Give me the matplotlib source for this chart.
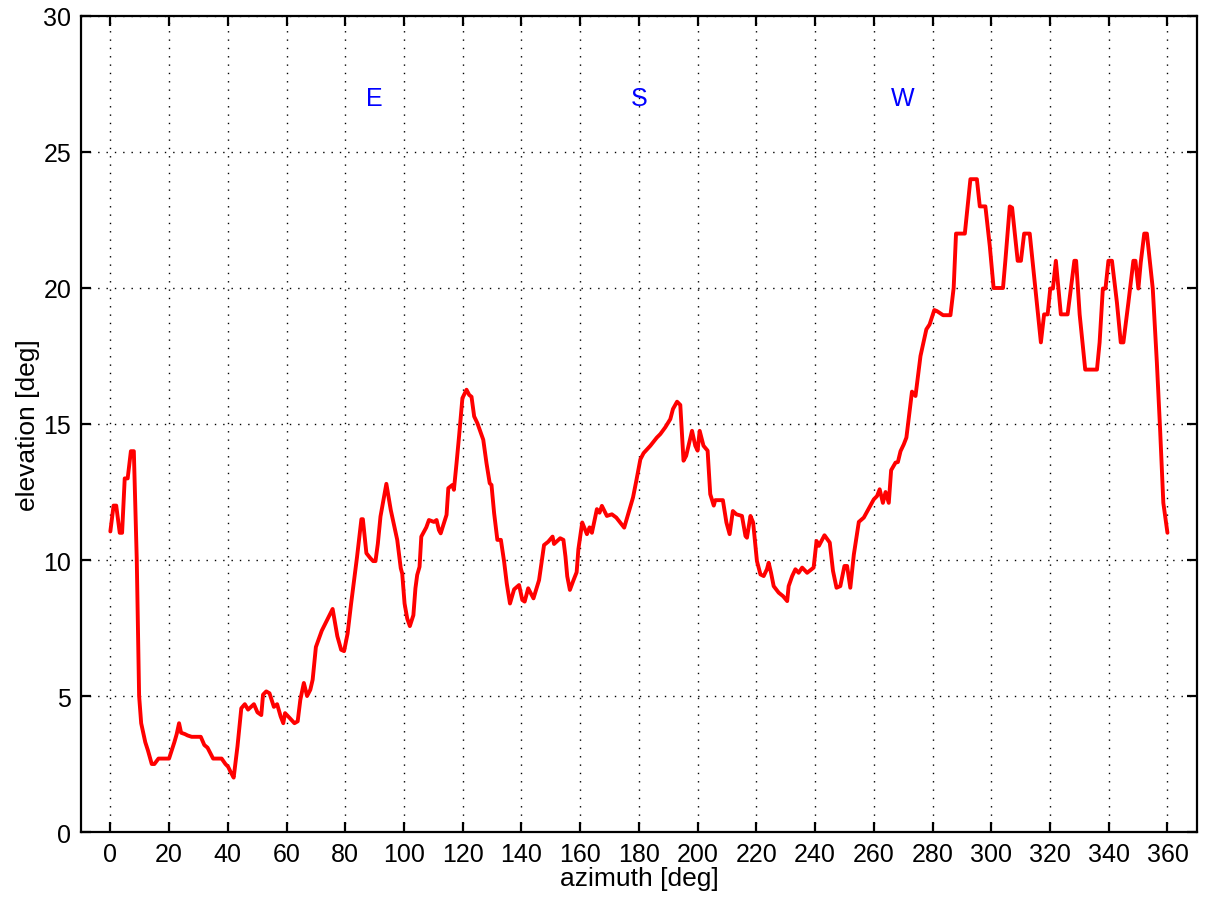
import matplotlib
matplotlib.use("Agg")
import matplotlib.pyplot as plt
import numpy as np

# horizon profile: azimuth [deg] vs. elevation [deg]
azimuth = [
    0, 1.1, 2.0, 3.2, 4.0, 4.9, 5.9, 7.0, 8.0, 9.0, 9.8, 10.5, 11.9, 12.8,
    14.1, 15.0, 16.4, 20.0, 21.8, 22.6, 23.4, 24.1, 25.4, 26.3, 27.7, 30.8,
    32.0, 33.1, 35.0, 37.9, 39.2, 40.1, 41.0, 42.0, 43.3, 44.6, 45.8, 46.9,
    48.9, 50.1, 51.4, 52.0, 53.1, 54.2, 55.7, 56.8, 58.0, 58.9, 59.5, 61.0,
    62.7, 63.8, 64.7, 65.9, 67.0, 68.1, 68.9, 70.0, 72.0, 75.7, 77.3, 78.6,
    79.6, 80.8, 82.0, 84.0, 85.5, 86.0, 87.2, 88.6, 89.5, 90.3, 91.1, 92.0,
    94.0, 95.5, 97.7, 98.9, 99.4, 100.2, 101.1, 102.0, 103.2, 103.9, 104.5,
    105.3, 105.9, 106.8, 107.6, 108.5, 110.2, 111.1, 111.9, 112.5, 113.4,
    114.5, 115.1, 116.5, 117.0, 117.9, 118.75, 119.9, 121.3, 122.2, 123.0,
    123.9, 125.0, 127.0, 128.1, 129.2, 129.8, 130.7, 131.8, 133.0, 134.1,
    135.0, 136.1, 137.5, 139.2, 140.3, 141.1, 142.3, 144.1, 146.0, 147.7,
    149.1, 150.6, 151.1, 153.2, 154.3, 155.0, 155.6, 156.5, 157.7, 158.8,
    159.4, 160.7, 162.3, 163.2, 164.0, 165.7, 166.6, 167.4, 169.1, 170.8,
    172.3, 173.6, 175.0, 176.5, 178.0, 179.1, 180.5, 181.6, 183.9, 186.1,
    187.3, 189.0, 190.7, 191.6, 193.0, 194.1, 195.2, 196.1, 198.1, 199.2,
    200.0, 200.7, 202.0, 203.4, 204.3, 205.5, 206.0, 208.6, 209.8, 210.9,
    212.0, 213.2, 215.1, 216.3, 216.8, 218.0, 218.9, 220.2, 221.4, 222.5,
    223.6, 224.2, 225.0, 225.9, 227.6, 229.1, 230.5, 231.0, 232.2, 233.3,
    234.4, 235.6, 237.3, 239.5, 240.5, 241.3, 243.2, 245.0, 246.1, 247.3,
    248.6, 250.0, 250.9, 252.0, 253.2, 254.9, 256.6, 260.0, 261.1, 262.0,
    263.1, 264.0, 265.1, 265.9, 267.4, 268.2, 269.1, 270.2, 271.1, 273.0,
    274.2, 275.9, 277.9, 279.0, 280.6, 281.5, 283.6, 286.1, 287.2, 288.0,
    291.0, 292.9, 295.1, 296.1, 298.0, 299.5, 300.8, 304.0, 304.8, 306.3,
    307.1, 309.0, 310.1, 311.2, 313.1, 315.0, 316.9, 318.0, 319.2, 320.1,
    321.0, 322.0, 323.7, 326.0, 328.3, 328.9, 330.1, 332.0, 336.0, 336.9,
    338.0, 338.9, 339.9, 341.1, 342.8, 344.1, 345.0, 346.7, 348.4, 349.1,
    350.1, 350.9, 352.1, 353.0, 355.0, 356.4, 357.5, 358.6, 360.0,
]
elevation = [
    11.05, 12.0, 12.0, 11.0, 11.0, 13.0, 13.0, 14.0, 14.0, 10.0, 5.0, 4.0,
    3.3, 3.0, 2.5, 2.5, 2.7, 2.7, 3.3, 3.6, 4.0, 3.65, 3.6, 3.55, 3.5, 3.5,
    3.2, 3.1, 2.7, 2.7, 2.5, 2.4, 2.2, 2.0, 3.15, 4.55, 4.7, 4.5, 4.7, 4.4,
    4.3, 5.05, 5.17, 5.1, 4.6, 4.7, 4.25, 4.0, 4.37, 4.2, 4.0, 4.07, 4.86,
    5.48, 5.0, 5.23, 5.6, 6.8, 7.4, 8.2, 7.2, 6.7, 6.65, 7.3, 8.4, 10.1,
    11.5, 11.5, 10.25, 10.06, 9.96, 9.96, 10.6, 11.6, 12.8, 11.84, 10.74,
    9.7, 9.5, 8.4, 7.85, 7.57, 7.97, 8.96, 9.45, 9.75, 10.86, 11.04, 11.2,
    11.47, 11.4, 11.47, 11.1, 10.98, 11.29, 11.66, 12.64, 12.76, 12.58,
    13.56, 14.54, 15.95, 16.26, 16.07, 16.0, 15.28, 15.03, 14.42, 13.56,
    12.82, 12.76, 11.72, 10.74, 10.74, 9.94, 9.14, 8.4, 8.92, 9.08, 8.53,
    8.47, 8.96, 8.59, 9.26, 10.55, 10.67, 10.86, 10.59, 10.8, 10.74, 10.12,
    9.4, 8.9, 9.25, 9.55, 10.4, 11.38, 10.95, 11.2, 11.0, 11.87, 11.74,
    11.99, 11.62, 11.68, 11.56, 11.38, 11.19, 11.74, 12.3, 12.9, 13.7,
    13.93, 14.2, 14.5, 14.63, 14.88, 15.18, 15.55, 15.82, 15.7, 13.65,
    13.83, 14.75, 14.2, 14.02, 14.75, 14.2, 14.02, 12.42, 12.0, 12.2, 12.2,
    11.38, 10.95, 11.8, 11.68, 11.62, 10.88, 10.82, 11.62, 11.38, 9.96,
    9.47, 9.41, 9.66, 9.9, 9.53, 9.04, 8.8, 8.67, 8.49, 9.04, 9.41, 9.66,
    9.53, 9.72, 9.53, 9.72, 10.7, 10.52, 10.91, 10.64, 9.6, 8.98, 9.04,
    9.78, 9.78, 8.98, 10.2, 11.4, 11.56, 12.23, 12.35, 12.6, 12.1, 12.5,
    12.1, 13.3, 13.58, 13.6, 14.0, 14.25, 14.5, 16.19, 16.03, 17.5, 18.48,
    18.66, 19.19, 19.15, 19.0, 19.0, 20.01, 22.0, 22.0, 24.0, 24.0, 23.0,
    23.0, 21.54, 20.0, 20.0, 21.0, 23.0, 22.95, 21.0, 21.0, 22.0, 22.0,
    20.0, 18.0, 19.03, 19.03, 19.98, 19.98, 21.0, 19.03, 19.03, 21.0, 21.0,
    19.03, 17.0, 17.0, 18.0, 19.98, 19.98, 21.0, 21.0, 19.46, 18.0, 18.0,
    19.46, 21.0, 21.0, 19.98, 20.93, 22.0, 22.0, 19.98, 17.25, 14.8, 12.1,
    11.0,
]

# compass directions written above the profile
compass_labels = ["E", "S", "W"]
compass_az = [90, 180, 270]
compass_el = 27

plt.rcParams["font.family"] = ["Liberation Sans", "DejaVu Sans"]

fig = plt.figure(figsize=(12.05, 9.03), dpi=100)
ax = fig.add_axes([0.0672, 0.0775, 0.926, 0.9037])

ax.plot(azimuth, elevation, color="red", linewidth=2.8,
        solid_joinstyle="round", solid_capstyle="round")

for lab, az in zip(compass_labels, compass_az):
    ax.text(az, compass_el, lab, color="blue", fontsize=18,
            ha="center", va="center")

ax.set_xlim(-10, 370)
ax.set_ylim(0, 30)
ax.set_xticks(np.arange(0, 361, 20))
ax.set_yticks(np.arange(0, 31, 5))

ax.grid(True, color="black", linestyle=(0, (1, 5)), linewidth=1.0)
ax.tick_params(direction="in", top=True, right=True, length=7, width=1.6,
               labelsize=18, pad=7)
for sp in ax.spines.values():
    sp.set_linewidth(1.6)

ax.set_xlabel("azimuth [deg]", fontsize=19, labelpad=0)
ax.set_ylabel("elevation [deg]", fontsize=19, labelpad=2)

fig.savefig("out.png", dpi=100)
